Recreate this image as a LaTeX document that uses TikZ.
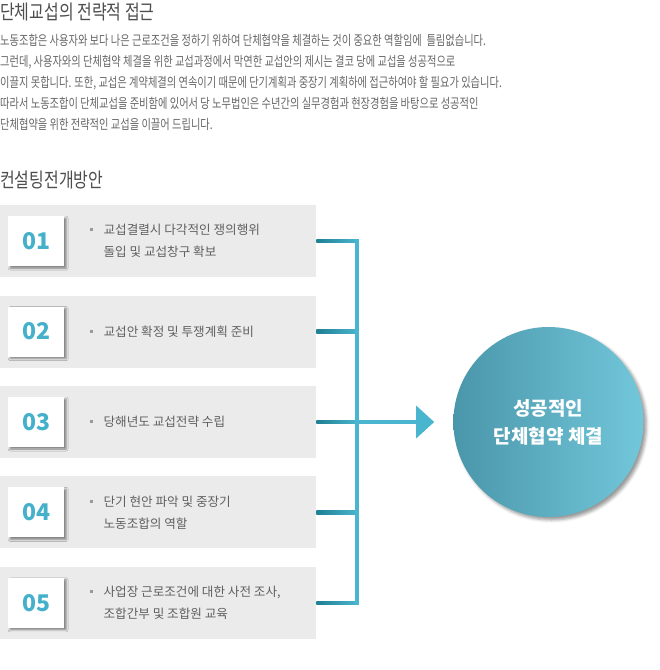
\documentclass[tikz,border=0pt]{standalone}
\usepackage{fontspec}
\setmainfont{Noto Sans CJK KR}
\newfontfamily\narrowfont[FakeStretch=0.8]{Noto Sans CJK KR}
\newfontfamily\introfont[FakeStretch=0.76]{Noto Sans CJK KR}
\usetikzlibrary{arrows.meta, positioning, calc, shadows.blur}
\definecolor{boxgray}{HTML}{EBEBEB}
\definecolor{titlegray}{HTML}{4D4D4D}
\definecolor{introgray}{HTML}{666666}
\definecolor{stepgray}{HTML}{606060}
\definecolor{bulletgray}{HTML}{999999}
\definecolor{numteal}{HTML}{45B0CA}
\definecolor{tealdark}{HTML}{1F7F93}
\definecolor{teallight}{HTML}{4AB5CE}
\definecolor{circleft}{HTML}{4A96AA}
\definecolor{circright}{HTML}{72C7DA}
\tikzset{
    heading/.style={anchor=west, inner sep=0pt, text=titlegray, font=\narrowfont\fontsize{20}{20}\selectfont},
    intro/.style={anchor=north west, inner sep=0pt, align=left, text=introgray, font=\introfont\fontsize{13.5}{21}\selectfont},
    stepbox/.style={rectangle, fill=boxgray, minimum width=316pt, minimum height=72pt, inner sep=0pt},
    numbox/.style={rectangle, fill=white, minimum width=56pt, minimum height=50pt, text=numteal, font=\fontsize{23}{23}\selectfont\bfseries, blur shadow={shadow xshift=2pt, shadow yshift=-2pt, shadow blur radius=2pt, shadow opacity=45}},
    steptext/.style={anchor=west, inner sep=0pt, align=left, text=stepgray, font=\fontsize{12.6}{22}\selectfont},
    stub/.style={left color=tealdark, right color=teallight},
    bus/.style={line width=4pt, teallight, line cap=rect},
    flow/.style={line width=3.5pt, teallight, -{Triangle[length=18pt, width=32pt]}, shorten >=19pt},
    goal/.style={circle, minimum size=190pt, inner sep=0pt, left color=circleft, right color=circright, text=white, align=center, font=\fontsize{19}{28}\selectfont\bfseries, blur shadow={shadow xshift=3pt, shadow yshift=-3pt, shadow blur radius=3pt, shadow opacity=40}}
}
\newcommand{\stepbullet}{\llap{\textcolor{bulletgray}{\rule[3.5pt]{3pt}{3pt}}\hspace{11pt}}}

\begin{document}
\begin{tikzpicture}[x=1pt, y=-1pt, node distance=18pt]
    \useasboundingbox (0,0) rectangle (660,670);

    \node (title) [heading] at (0,12) {단체교섭의 전략적 접근};
    \node (intro) [intro] at (0,34) {노동조합은 사용자와 보다 나은 근로조건을 정하기 위하여 단체협약을 체결하는 것이 중요한 역할임에\ \ 틀림없습니다.\\
        그런데, 사용자와의 단체협약 체결을 위한 교섭과정에서 막연한 교섭안의 제시는 결코 당에 교섭을 성공적으로\\
        이끌지 못합니다. 또한, 교섭은 계약체결의 연속이기 때문에 단기계획과 중장기 계획하에 접근하여야 할 필요가 있습니다.\\
        따라서 노동조합이 단체교섭을 준비함에 있어서 당 노무법인은 수년간의 실무경험과 현장경험을 바탕으로 성공적인\\
        단체협약을 위한 전략적인 교섭을 이끌어 드립니다.};
    \node (plan) [heading] at (0,180) {컨설팅전개방안};

    \node (step1) [stepbox, anchor=north west] at (0,205) {};
    \node (step2) [stepbox, below=of step1] {};
    \node (step3) [stepbox, below=of step2] {};
    \node (step4) [stepbox, below=of step3] {};
    \node (step5) [stepbox, below=of step4] {};

    \node (num1) [numbox, right=8pt of step1.west] {01};
    \node (num2) [numbox, right=8pt of step2.west] {02};
    \node (num3) [numbox, right=8pt of step3.west] {03};
    \node (num4) [numbox, right=8pt of step4.west] {04};
    \node (num5) [numbox, right=8pt of step5.west] {05};

    \node (text1) [steptext, right=39pt of num1] {\stepbullet 교섭결렬시 다각적인 쟁의행위\\ 돌입 및 교섭창구 확보};
    \node (text2) [steptext, right=39pt of num2] {\stepbullet 교섭안 확정 및 투쟁계획 준비};
    \node (text3) [steptext, right=39pt of num3] {\stepbullet 당해년도 교섭전략 수립};
    \node (text4) [steptext, right=39pt of num4] {\stepbullet 단기 현안 파악 및 중장기\\ 노동조합의 역할};
    \node (text5) [steptext, right=39pt of num5] {\stepbullet 사업장 근로조건에 대한 사전 조사,\\ 조합간부 및 조합원 교육};

    \node (goal) [goal] at ($(step3.east)+(232,0)$) {성공적인\\ 단체협약 체결};

    % connectors into the bus
    \coordinate (bustop) at ($(step1.east)+(41,0)$);
    \coordinate (busbot) at ($(step5.east)+(41,0)$);
    \foreach \i in {1,...,5}
        \shade[stub] ($(step\i.east)+(0,-1.75)$) rectangle ($(step\i.east -| bustop)+(0,1.75)$);
    \draw [bus] (bustop) -- (busbot);
    \draw [flow] (step3.east -| bustop) -- (goal);
\end{tikzpicture}
\end{document}
